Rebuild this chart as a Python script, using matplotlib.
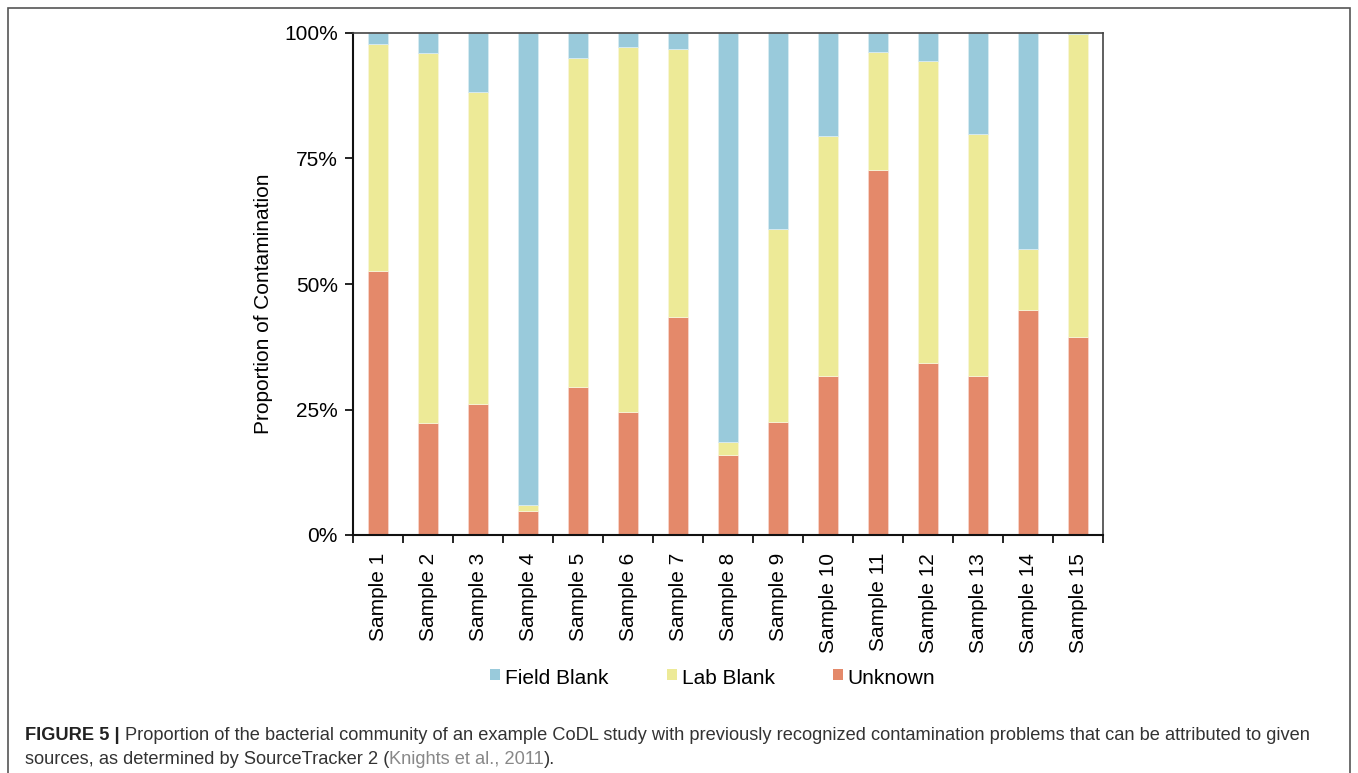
import matplotlib
matplotlib.use("Agg")
import matplotlib.pyplot as plt
import matplotlib.patches as mpatches
from matplotlib.lines import Line2D
from matplotlib.path import Path
from matplotlib.ticker import FixedLocator, PercentFormatter
import numpy as np
from matplotlib import font_manager

samples = ["Sample %d" % i for i in range(1, 16)]
unknown = [52.6, 22.3, 26.0, 4.8, 29.5, 24.6, 43.4, 15.9, 22.6, 31.7, 72.7, 34.3, 31.7, 44.8, 39.4]
lab_blank = [45.3, 73.7, 62.3, 1.2, 65.6, 72.7, 53.4, 2.6, 38.4, 47.7, 23.5, 60.1, 48.2, 12.2, 60.4]
field_blank = [2.1, 4.0, 11.7, 94.0, 4.9, 2.7, 3.2, 81.5, 39.0, 20.6, 3.8, 5.6, 20.1, 43.0, 0.2]
series_names = ["Field Blank", "Lab Blank", "Unknown"]
colors = {"Field Blank": "#99CADB", "Lab Blank": "#EDEA97", "Unknown": "#E4896A"}
y_ticks = [0, 25, 50, 75, 100]

plt.rcParams['font.family'] = ['Liberation Sans', 'DejaVu Sans']

W, H = 1358, 773
fig = plt.figure(figsize=(W / 100, H / 100), dpi=100)

# outer frame
fig.patches.append(mpatches.Rectangle((8 / W, -0.05), (1350 - 8) / W, 1 - 8 / H + 0.05,
                                      transform=fig.transFigure, fill=False,
                                      edgecolor="#555555", lw=1.2))

ax = fig.add_axes([353 / W, 1 - 535 / H, 750 / W, 502 / H])
x = np.arange(len(samples))
u = np.array(unknown)
l = np.array(lab_blank)
f = np.array(field_blank)
bw = 0.4
ax.bar(x, u, bw, color=colors["Unknown"], edgecolor="#F7D6CB", lw=0.6)
ax.bar(x, l, bw, bottom=u, color=colors["Lab Blank"], edgecolor="#F8F6D8", lw=0.6)
ax.bar(x, f, bw, bottom=u + l, color=colors["Field Blank"], edgecolor="#D8ECF2", lw=0.6)

ax.set_xlim(-0.5, len(samples) - 0.5)
ax.set_ylim(0, 100)
ax.xaxis.set_major_locator(FixedLocator(np.arange(-0.5, len(samples), 1.0)))
ax.xaxis.set_minor_locator(FixedLocator(x))
ax.set_xticklabels([])
ax.set_xticklabels(samples, minor=True, rotation=90, fontsize=15)
ax.tick_params(axis="x", which="major", direction="out", length=6, width=1.2)
ax.tick_params(axis="x", which="minor", length=0, pad=13)
ax.set_yticks(y_ticks)
ax.yaxis.set_major_formatter(PercentFormatter(decimals=0))
ax.tick_params(axis="y", direction="out", length=6, width=1.2, labelsize=15, pad=5)
for s in ["left", "bottom"]:
    ax.spines[s].set_linewidth(1.5)
    ax.spines[s].set_color("#111111")
for s in ["top", "right"]:
    ax.spines[s].set_linewidth(1.2)
    ax.spines[s].set_color("#444444")
ax.set_ylabel("Proportion of Contamination", fontsize=15)
ax.yaxis.set_label_coords((273 - 353) / 750, (535 - 304) / 502)

sq = Path([(-0.5, -0.25), (0.5, -0.25), (0.5, 0.8), (-0.5, 0.8), (-0.5, -0.25)],
          [Path.MOVETO, Path.LINETO, Path.LINETO, Path.LINETO, Path.CLOSEPOLY])
handles = [Line2D([], [], marker=sq, ls="none", markersize=12,
                  markerfacecolor=colors[n], markeredgecolor=colors[n], markeredgewidth=0)
           for n in series_names]
fig.legend(handles, series_names, loc="center", bbox_to_anchor=(712.5 / W, 1 - 679 / H),
           ncol=3, frameon=False, fontsize=15, handletextpad=0.2, columnspacing=2.75,
           handlelength=0.55, borderpad=0)

# caption
avail = {fe.name for fe in font_manager.fontManager.ttflist}
cap_family = ['Liberation Sans Narrow', 'Liberation Sans'] if 'Liberation Sans Narrow' in avail else ['Liberation Sans']
renderer = fig.canvas.get_renderer()
line1 = [("FIGURE 5 | ", "bold", "#222222"),
         ("Proportion of the bacterial community of an example CoDL study with previously recognized contamination problems that can be attributed to given", "normal", "#333333")]
line2 = [("sources, as determined by SourceTracker 2 (", "normal", "#333333"),
         ("Knights et al., 2011", "normal", "#888888"),
         (").", "normal", "#333333")]

def draw_line(pieces, x0, ybase, size, draw=True):
    xp = x0
    objs = []
    for txt, wt, col in pieces:
        t = fig.text(xp / W, 1 - ybase / H, txt, fontsize=size, fontweight=wt, color=col,
                     family=cap_family, va="baseline", ha="left")
        bb = t.get_window_extent(renderer)
        xp = bb.x1
        objs.append(t)
    if not draw:
        for t in objs:
            t.remove()
    return xp - x0

base_size = 13
wid = draw_line(line1, 25, 740, base_size, draw=False)
size = base_size * (1307 - 25) / wid
draw_line(line1, 25, 740, size)
draw_line(line2, 25, 764, size)

fig.savefig("out.png", dpi=100)
